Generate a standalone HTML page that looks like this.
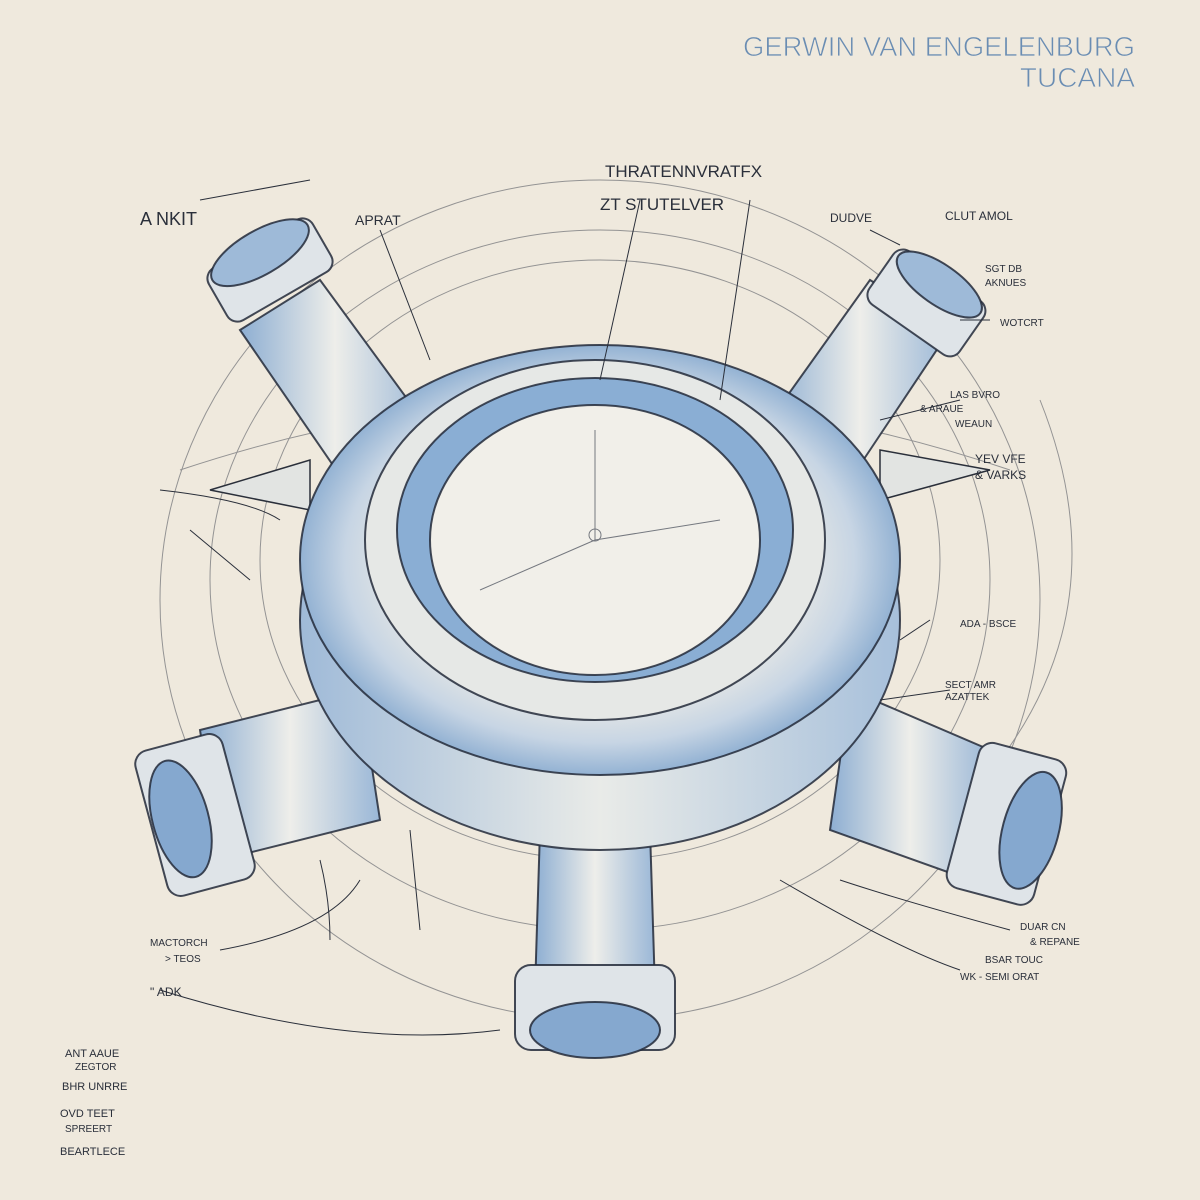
<!DOCTYPE html>
<html><head><meta charset="utf-8"><style>
html,body{margin:0;padding:0;background:#efe9dd;}
svg{display:block}
.t{font-family:"Liberation Sans",sans-serif;fill:#6a8db3}
.h{font-family:"Liberation Sans",sans-serif;fill:#2a2f3a;font-size:12px}
</style></head><body>
<svg width="1200" height="1200" viewBox="0 0 1200 1200" xmlns="http://www.w3.org/2000/svg">
<defs>
<radialGradient id="rg" cx="50%" cy="50%" r="50%">
<stop offset="0.6" stop-color="#f1eee6"/><stop offset="0.85" stop-color="#c7d5e4"/><stop offset="1" stop-color="#93b2d3"/>
</radialGradient>
<linearGradient id="low" x1="0" y1="0" x2="1" y2="0">
<stop offset="0" stop-color="#9fbad8"/><stop offset="0.5" stop-color="#e9ebe8"/><stop offset="1" stop-color="#a7c0db"/>
</linearGradient>
<linearGradient id="arm" x1="0" y1="0" x2="1" y2="0">
<stop offset="0" stop-color="#8daed2"/><stop offset="0.5" stop-color="#eeeeea"/><stop offset="1" stop-color="#9ab7d7"/>
</linearGradient>
</defs>
<rect width="1200" height="1200" fill="#efe9dd"/>
<text class="t" x="1135" y="56" font-size="28" text-anchor="end" textLength="392" lengthAdjust="spacingAndGlyphs" stroke="#efe9dd" stroke-width="0.8">GERWIN VAN ENGELENBURG</text>
<text class="t" x="1135" y="87" font-size="28" text-anchor="end" stroke="#efe9dd" stroke-width="0.8">TUCANA</text>

<g fill="none" stroke="#3a3f4c" stroke-width="1" opacity="0.5">
<ellipse cx="600" cy="600" rx="440" ry="420"/>
<ellipse cx="600" cy="580" rx="390" ry="350"/>
<ellipse cx="600" cy="560" rx="340" ry="300"/>
<path d="M180 470 Q600 330 1010 470"/>
<path d="M1040 400 Q1120 600 1000 760"/>
</g>

<g fill="#e2e4e2" stroke="#2a2f3a" stroke-width="1.5">
<polygon points="210,490 310,460 310,510"/>
<polygon points="990,470 880,450 880,500"/>
</g>

<g stroke="#232a3a" stroke-width="2" stroke-opacity="0.85">
<polygon points="240,330 320,280 430,430 350,490" fill="url(#arm)"/>
<polygon points="950,330 870,280 770,420 850,480" fill="url(#arm)"/>
<polygon points="200,730 220,860 380,820 360,690" fill="url(#arm)"/>
<polygon points="990,750 970,880 830,830 850,690" fill="url(#arm)"/>
<polygon points="540,830 650,830 655,990 535,990" fill="url(#arm)"/>
</g>

<g stroke="#232a3a" stroke-width="2" stroke-opacity="0.85">
<ellipse cx="600" cy="620" rx="300" ry="230" fill="url(#low)"/>
<ellipse cx="600" cy="560" rx="300" ry="215" fill="url(#rg)"/>
<ellipse cx="595" cy="540" rx="230" ry="180" fill="#e6e8e6"/>
<ellipse cx="595" cy="530" rx="198" ry="152" fill="#8aaed4"/>
<ellipse cx="595" cy="540" rx="165" ry="135" fill="#f1efe9"/>
</g>
<g stroke="#232a3a" stroke-width="1" fill="none" opacity="0.6">
<line x1="595" y1="540" x2="480" y2="590"/>
<line x1="595" y1="540" x2="595" y2="430"/>
<line x1="595" y1="540" x2="720" y2="520"/>
<circle cx="595" cy="535" r="6"/>
</g>

<g stroke="#232a3a" stroke-width="2" stroke-opacity="0.85">
<g transform="rotate(-30 270 270)"><rect x="210" y="240" width="120" height="60" rx="12" fill="#dfe4e8"/><ellipse cx="270" cy="250" rx="55" ry="22" fill="#9ebad8"/></g>
<g transform="rotate(35 925 305)"><rect x="870" y="270" width="110" height="65" rx="12" fill="#dfe4e8"/><ellipse cx="925" cy="280" rx="50" ry="20" fill="#9ebad8"/></g>
<g transform="rotate(-15 195 815)"><rect x="150" y="740" width="90" height="150" rx="14" fill="#dfe4e8"/><ellipse cx="180" cy="815" rx="28" ry="60" fill="#85a8cf"/></g>
<g transform="rotate(15 1010 830)"><rect x="960" y="750" width="90" height="150" rx="14" fill="#dfe4e8"/><ellipse cx="1030" cy="825" rx="28" ry="60" fill="#85a8cf"/></g>
<rect x="515" y="965" width="160" height="85" rx="16" fill="#dfe4e8"/>
<ellipse cx="595" cy="1030" rx="65" ry="28" fill="#85a8cf"/>
</g>

<g stroke="#2a2f3a" stroke-width="1" fill="none">
<path d="M200 200 L310 180"/><path d="M380 230 L430 360"/><path d="M640 200 L600 380"/>
<path d="M750 200 L720 400"/><path d="M870 230 L900 245"/><path d="M990 320 L960 320"/>
<path d="M960 400 L880 420"/><path d="M160 490 Q250 500 280 520"/><path d="M190 530 L250 580"/>
<path d="M930 620 L900 640"/><path d="M950 690 L880 700"/><path d="M220 950 Q330 930 360 880"/>
<path d="M160 990 Q350 1050 500 1030"/><path d="M1010 930 Q900 900 840 880"/><path d="M960 970 Q900 950 780 880"/>
<path d="M320 860 Q330 900 330 940"/><path d="M410 830 L420 930"/>
</g>
<g class="h">
<text x="140" y="225" font-size="18">A NKIT</text>
<text x="355" y="225" font-size="14">APRAT</text>
<text x="605" y="177" font-size="17">THRATENNVRATFX</text>
<text x="600" y="210" font-size="17">ZT STUTELVER</text>
<text x="830" y="222">DUDVE</text>
<text x="945" y="220">CLUT AMOL</text>
<text x="985" y="272" font-size="10">SGT DB</text>
<text x="985" y="286" font-size="10">AKNUES</text>
<text x="1000" y="326" font-size="10">WOTCRT</text>
<text x="950" y="398" font-size="10">LAS BVRO</text>
<text x="920" y="412" font-size="10">&amp; ARAUE</text>
<text x="955" y="427" font-size="10">WEAUN</text>
<text x="975" y="463">YEV VFE</text>
<text x="975" y="479">&amp; VARKS</text>
<text x="960" y="627" font-size="10">ADA - BSCE</text>
<text x="945" y="688" font-size="10">SECT AMR</text>
<text x="945" y="700" font-size="10">AZATTEK</text>
<text x="1020" y="930" font-size="10">DUAR CN</text>
<text x="1030" y="945" font-size="10">&amp; REPANE</text>
<text x="985" y="963" font-size="10">BSAR TOUC</text>
<text x="960" y="980" font-size="10">WK - SEMI ORAT</text>
<text x="150" y="946" font-size="10">MACTORCH</text>
<text x="165" y="962" font-size="10">&gt; TEOS</text>
<text x="150" y="996">" ADK</text>
<text x="65" y="1057" font-size="11">ANT AAUE</text>
<text x="75" y="1070" font-size="10">ZEGTOR</text>
<text x="62" y="1090" font-size="11">BHR UNRRE</text>
<text x="60" y="1117" font-size="11">OVD TEET</text>
<text x="65" y="1132" font-size="10">SPREERT</text>
<text x="60" y="1155" font-size="11">BEARTLECE</text>
</g>
</svg>
</body></html>
